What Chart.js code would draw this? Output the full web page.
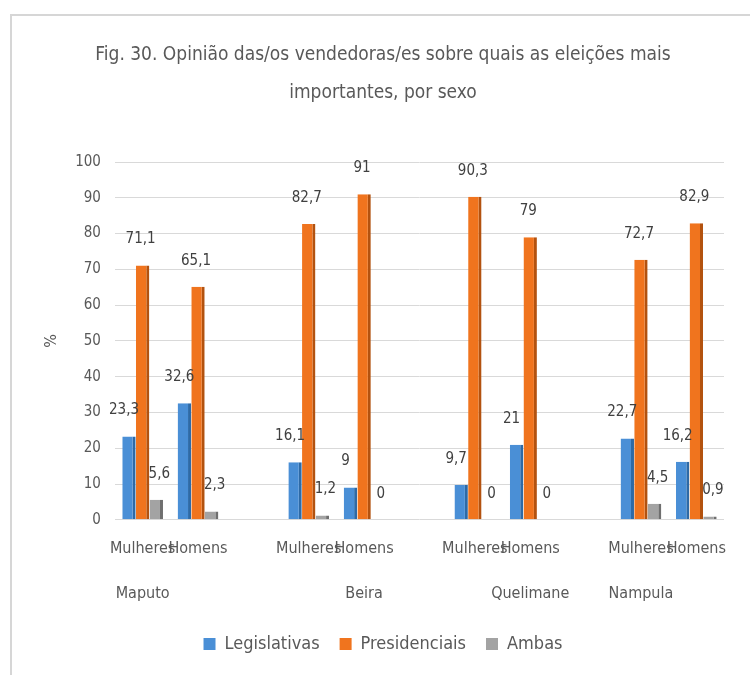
<!DOCTYPE html>
<html>
<head>
<meta charset="utf-8">
<script src="https://cdn.jsdelivr.net/npm/chart.js@4/dist/chart.umd.min.js"></script>
<style>
  html, body { margin: 0; padding: 0; background: #fff; }
  #box {
    position: absolute; left: 10px; top: 14px; width: 740px; height: 661px;
    border-left: 2px solid #d6d6d6; border-top: 2px solid #d6d6d6; box-sizing: border-box;
  }
</style>
</head>
<body>
<div id="box"><canvas id="eleicoesChart"></canvas></div>
<script>
const sexo = ['Mulheres', 'Homens'];
const cidades = ['Maputo', 'Beira', 'Quelimane', 'Nampula'];
const cidadeSob = [0, 1, 1, 0]; // sob qual sexo aparece o nome da cidade
const legislativas = [23.3, 32.6, 16.1, 9, 9.7, 21, 22.7, 16.2];
const presidenciais = [71.1, 65.1, 82.7, 91, 90.3, 79, 72.7, 82.9];
const ambas = [5.6, 2.3, 1.2, 0, 0, 0, 4.5, 0.9];

const FONT = "'Liberation Sans Narrow', 'DejaVu Sans Condensed', 'Liberation Sans', sans-serif";
const TEXT = '#595959';
Chart.defaults.font.family = FONT;
Chart.defaults.color = TEXT;

// monta as categorias com um espaco vazio entre cidades
const labels = [];
const slot = [];
cidades.forEach((cidade, c) => {
    sexo.forEach((s, k) => {
        labels.push([s, '', cidadeSob[c] === k ? cidade : '']);
        slot.push(c * 2 + k);
    });
    if (c < cidades.length - 1) { labels.push(['', '', '']); slot.push(null); }
});
function espalha(valores) {
    return slot.map(i => i === null ? null : valores[i]);
}

// rotulos de dados (sem plugin externo)
const rotulos = {
    id: 'rotulos',
    afterDatasetsDraw(chart) {
        const ctx = chart.ctx;
        const desloc = [-5, -2, 3];
        ctx.save();
        ctx.font = '15px ' + FONT;
        ctx.fillStyle = '#404040';
        ctx.textAlign = 'center';
        ctx.textBaseline = 'middle';
        chart.data.datasets.forEach((ds, d) => {
            chart.getDatasetMeta(d).data.forEach((el, i) => {
                const v = ds.data[i];
                if (v === null) return;
                ctx.fillText(String(v).replace('.', ','), el.x + desloc[d], el.y - 26);
            });
        });
        ctx.restore();
    }
};

const ctx = document.getElementById('eleicoesChart').getContext('2d');
const eleicoesChart = new Chart(ctx, {
    type: 'bar',
    data: {
        labels: labels,
        datasets: [{
            label: 'Legislativas',
            data: espalha(legislativas),
            backgroundColor: '#4a8fd6',
            borderColor: '#2e6aa6',
            borderWidth: { top: 0, right: 3, bottom: 0, left: 0 },
            categoryPercentage: 0.74,
            barPercentage: 0.98
        }, {
            label: 'Presidenciais',
            data: espalha(presidenciais),
            backgroundColor: '#f0741e',
            borderColor: '#b3520f',
            borderWidth: { top: 0, right: 3, bottom: 0, left: 0 },
            categoryPercentage: 0.74,
            barPercentage: 0.98
        }, {
            label: 'Ambas',
            data: espalha(ambas),
            backgroundColor: '#a3a3a3',
            borderColor: '#6f6f6f',
            borderWidth: { top: 0, right: 3, bottom: 0, left: 0 },
            categoryPercentage: 0.74,
            barPercentage: 0.98
        }]
    },
    options: {
        responsive: true,
        maintainAspectRatio: false,
        animation: false,
        layout: {
            padding: { left: 30, right: 26, top: 0, bottom: 12 }
        },
        plugins: {
            title: {
                display: true,
                text: ['Fig. 30. Opinião das/os vendedoras/es sobre quais as eleições mais', 'importantes, por sexo'],
                color: TEXT,
                font: { size: 19, weight: 'normal', lineHeight: 2.0 },
                padding: { top: 20, bottom: 50 }
            },
            legend: {
                position: 'bottom',
                labels: {
                    boxWidth: 12,
                    boxHeight: 12,
                    padding: 20,
                    color: TEXT,
                    font: { size: 18 },
                    generateLabels(chart) {
                        return Chart.defaults.plugins.legend.labels.generateLabels(chart)
                            .map(item => Object.assign(item, { lineWidth: 0, strokeStyle: item.fillStyle }));
                    }
                }
            },
            tooltip: { enabled: false }
        },
        scales: {
            x: {
                grid: { display: false },
                border: { display: false },
                ticks: {
                    autoSkip: false,
                    maxRotation: 0,
                    padding: 10,
                    color: TEXT,
                    font: { size: 16, lineHeight: 1.4 }
                }
            },
            y: {
                min: 0,
                max: 100,
                grid: { color: '#d9d9d9', drawTicks: false },
                border: { display: false },
                ticks: {
                    stepSize: 10,
                    padding: 14,
                    color: TEXT,
                    font: { size: 15 }
                },
                title: {
                    display: true,
                    text: '%',
                    color: TEXT,
                    font: { size: 16 },
                    padding: { top: 0, bottom: 0 }
                }
            }
        }
    },
    plugins: [rotulos]
});
</script>
</body>
</html>
